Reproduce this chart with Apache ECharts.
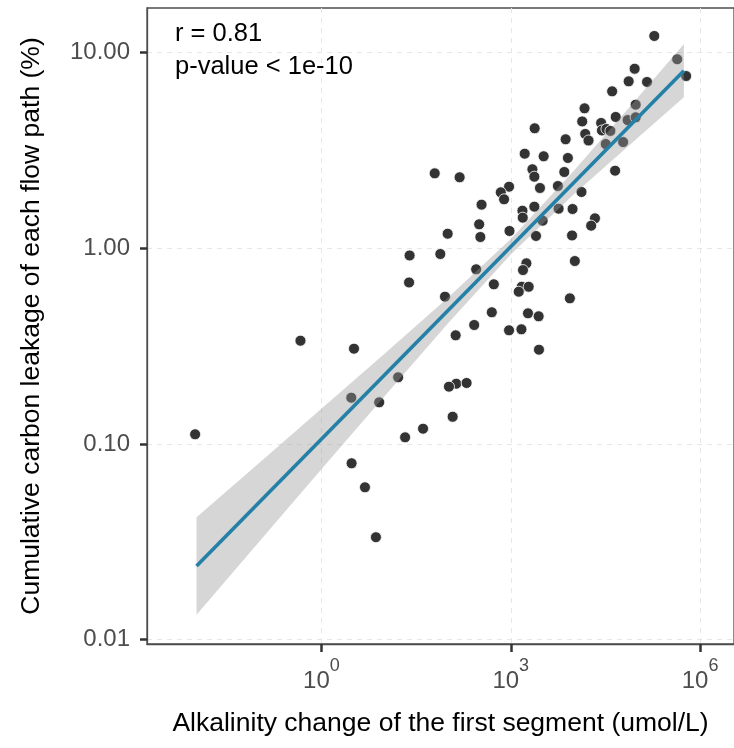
<!DOCTYPE html>
<html>
<head>
<meta charset="utf-8">
<script src="https://cdn.jsdelivr.net/npm/echarts@6/dist/echarts.min.js"></script>
<style>
html,body{margin:0;padding:0;background:#fff;}
#chart{width:734px;height:748px;}
</style>
</head>
<body>
<div id="chart"></div>
<script>
// Alkalinity change of the first segment (umol/L)
const alkalinity = [
  1.879e5, 4.335e5, 6.01e5, 9.18e4, 7.38e4, 1.442e5, 4.04e4, 9.53e4, 1.476e4, 1.356e4,
  2.704e4, 4.60e4, 7.11e4, 9.53e4, 2.786e4, 3.28e4, 3.79e4, 1.513e4, 1.706e4, 7.40e3,
  3.20e4, 6.03e4, 8.04e3, 2.393e3, 1.663e3, 3.32e3, 62.4, 154.9, 2.203e3, 2.366e3,
  7.05e3, 4.50e4, 940, 695, 784, 2.904e3, 5.585e3, 1.321e4, 344.8, 2.366e3,
  1.531e3, 1.549e3, 5.73e3, 9.53e3, 3.20e3, 2.158e4, 1.879e4, 100.1, 316, 330,
  955, 2.512e3, 9.36e3, 76.6, 24.98, 1.770e3, 1.563e3, 1.493e3, 1.923e3, 1.338e3,
  1.036e4, 24.5, 90.8, 283.1, 539.5, 8.64e3, 501, 1.875e3, 2.767e3, 263.4,
  134, 940, 1.476e3, 2.80e3, 16.44, 136.9, 105, 199.8, 120.1, 40.8,
  21.2, 0.466, 3.284, 2.977, 8.24, 0.00999, 3.01, 4.90, 7.31
];
// Cumulative carbon leakage of each flow path (%)
const leakage = [
  12.16, 9.25, 7.59, 8.27, 7.13, 7.08, 6.34, 5.42, 5.19, 4.45,
  4.37, 4.69, 4.52, 4.67, 4.00, 4.07, 3.98, 3.84, 3.555, 3.606,
  3.41, 3.49, 2.894, 4.105, 3.044, 2.952, 2.416, 2.306, 2.533, 2.322,
  2.454, 2.492, 2.064, 1.932, 1.780, 2.033, 2.081, 1.940, 1.671, 1.632,
  1.556, 1.434, 1.594, 1.588, 1.384, 1.423, 1.305, 1.187, 1.326, 1.142,
  1.226, 1.156, 1.163, 0.935, 0.919, 0.838, 0.774, 0.636, 0.636, 0.600,
  0.861, 0.669, 0.566, 0.781, 0.6546, 0.555, 0.471, 0.4655, 0.4493, 0.4056,
  0.3592, 0.381, 0.3855, 0.3032, 0.2192, 0.2033, 0.1963, 0.2050, 0.1378, 0.1197,
  0.1082, 0.3372, 0.3069, 0.1724, 0.1633, 0.1121, 0.0797, 0.0601, 0.0334
];
// fitted regression line (end points) and 95% confidence band
const fitX = [0.01052, 553400];
const fitY = [0.02382, 8.08];
const bandX    = [0.01052, 0.1, 1, 10, 100, 1000, 1e4, 1e5, 553400];
const bandLow  = [0.01343, 0.03126, 0.07419, 0.1755, 0.4118, 0.9290, 1.886, 3.642, 5.909];
const bandHigh = [0.04227, 0.07931, 0.1512, 0.2891, 0.5572, 1.117, 2.490, 5.831, 11.06];

const xTicks = [1, 1000, 1e6];
const yTicks = [0.01, 0.1, 1, 10];
const xRange = [0.001726, 3.443e6];
const yRange = [0.009506, 16.90];

const annotation = ['r = 0.81', 'p-value < 1e-10'];
const xTitle = 'Alkalinity change of the first segment (umol/L)';
const yTitle = 'Cumulative carbon leakage of each flow path (%)';

const FONT = '"Liberation Sans", Arial, Helvetica, sans-serif';
const chart = echarts.init(document.getElementById('chart'));

const scatterData = alkalinity.map((x, i) => [x, leakage[i]]);

const option = {
  backgroundColor: '#ffffff',
  animation: false,
  textStyle: { fontFamily: FONT },
  grid: {
    left: 147, top: 8, width: 590, height: 636,
    show: true, borderColor: '#4d4d4d', borderWidth: 1.3, backgroundColor: 'transparent'
  },
  xAxis: {
    type: 'log', logBase: 10,
    min: xRange[0], max: xRange[1],
    name: xTitle, nameLocation: 'middle', nameGap: 66,
    nameTextStyle: { fontSize: 26.5, color: '#000', fontFamily: FONT },
    axisLine: { show: true, onZero: false, lineStyle: { color: '#4d4d4d', width: 1.3 } },
    axisTick: { show: true, customValues: xTicks, length: 8, lineStyle: { color: '#333', width: 2.5 } },
    axisLabel: {
      customValues: xTicks, margin: 13, color: '#4d4d4d',
      formatter: v => '{b|10}{s|' + Math.round(Math.log10(v)) + '}',
      rich: {
        b: { fontSize: 24, color: '#4d4d4d', fontFamily: FONT, verticalAlign: 'bottom', lineHeight: 36 },
        s: { fontSize: 18, color: '#4d4d4d', fontFamily: FONT, verticalAlign: 'top', lineHeight: 18 }
      }
    },
    minorTick: { show: false },
    splitLine: { show: true, lineStyle: { color: '#e6e6e6', width: 1, type: [5, 5] } }
  },
  yAxis: {
    type: 'log', logBase: 10,
    min: yRange[0], max: yRange[1],
    name: yTitle, nameLocation: 'middle', nameGap: 102, nameRotate: 90,
    nameTextStyle: { fontSize: 26.5, color: '#000', fontFamily: FONT },
    axisLine: { show: true, onZero: false, lineStyle: { color: '#4d4d4d', width: 1.3 } },
    axisTick: { show: true, customValues: yTicks, length: 7, lineStyle: { color: '#333', width: 2.5 } },
    axisLabel: {
      customValues: yTicks, margin: 17, color: '#4d4d4d', fontSize: 24, fontFamily: FONT,
      formatter: v => v.toFixed(2)
    },
    splitLine: { show: true, lineStyle: { color: '#e6e6e6', width: 1, type: [5, 5] } }
  },
  graphic: [
    { type: 'text', left: 175, top: 21, z: 100,
      style: { text: annotation[0], fontSize: 25.5, fill: '#000', fontFamily: FONT } },
    { type: 'text', left: 175, top: 54, z: 100,
      style: { text: annotation[1], fontSize: 25.5, fill: '#000', fontFamily: FONT } }
  ],
  series: [
    {
      type: 'scatter', name: 'points', data: scatterData, z: 2,
      symbol: 'circle', symbolSize: 11,
      itemStyle: { color: '#333333', borderColor: '#ffffff', borderWidth: 0.8, opacity: 1 },
      emphasis: { disabled: true }
    },
    {
      type: 'custom', name: 'band', z: 3, silent: true,
      data: [[bandX[0], bandLow[0]]],
      renderItem: function (params, api) {
        const pts = [];
        for (let i = 0; i < bandX.length; i++) pts.push(api.coord([bandX[i], bandHigh[i]]));
        for (let i = bandX.length - 1; i >= 0; i--) pts.push(api.coord([bandX[i], bandLow[i]]));
        return { type: 'polygon', shape: { points: pts }, style: { fill: 'rgba(153,153,153,0.4)', stroke: null } };
      }
    },
    {
      type: 'line', name: 'fit', z: 4, data: fitX.map((x, i) => [x, fitY[i]]),
      symbol: 'none', lineStyle: { color: '#2480a6', width: 3.6 }, silent: true
    }
  ]
};
chart.setOption(option);
</script>
</body>
</html>
